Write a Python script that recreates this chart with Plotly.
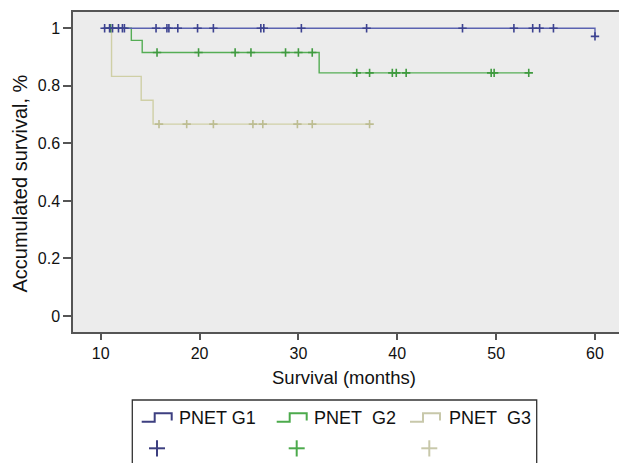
import numpy as np
import plotly.graph_objects as go

# ---------------- data ----------------
groups = ["PNET G1", "PNET  G2", "PNET  G3"]
colors = ["#5a62b0", "#55ad55", "#cfcfa6"]
mark_colors = ["#3c4290", "#3f9a3f", "#bdbd92"]
legend_colors = ["#3d3f80", "#4caa4c", "#c8c8aa"]

g1_step_t = [10.2, 60.0]
g1_step_s = [1.0, 0.972]
g1_cens_t = [10.4, 10.9, 11.2, 11.8, 12.2, 12.4, 15.6, 16.7, 16.9, 17.8, 19.8,
             21.4, 26.2, 26.5, 30.3, 36.9, 46.6, 51.8, 53.7, 54.4, 55.8, 60.0]

g2_step_t = [10.4, 13.1, 14.2, 32.1, 53.3]
g2_step_s = [1.0, 0.958, 0.916, 0.845, 0.845]
g2_cens_t = [11.0, 15.7, 19.9, 23.6, 25.2, 28.7, 30.0, 31.4, 35.9, 37.2, 39.5,
             39.9, 40.9, 49.5, 49.8, 53.3]

g3_step_t = [10.4, 11.1, 14.1, 15.3, 37.2]
g3_step_s = [1.0, 0.833, 0.75, 0.667, 0.667]
g3_cens_t = [15.9, 18.7, 21.4, 25.4, 26.4, 29.9, 31.4, 37.2]

x_ticks = [10, 20, 30, 40, 50, 60]
y_ticks = [0, 0.2, 0.4, 0.6, 0.8, 1]
y_tick_labels = ["0", "0.2", "0.4", "0.6", "0.8", "1"]

steps = [(g1_step_t, g1_step_s, g1_cens_t),
         (g2_step_t, g2_step_s, g2_cens_t),
         (g3_step_t, g3_step_s, g3_cens_t)]

FONT = "Liberation Sans, Arial, Helvetica, sans-serif"

fig = go.Figure()

def surv_at(ts, ss, t):
    ts = np.asarray(ts)
    idx = np.searchsorted(ts, t, side="right") - 1
    idx = np.clip(idx, 0, len(ss) - 1)
    return np.asarray(ss)[idx]

# draw G3 first, G1 last (on top)
for i in [2, 1, 0]:
    st, ss, ct = steps[i]
    fig.add_trace(go.Scatter(x=st, y=ss, mode="lines", line_shape="hv",
                             line=dict(color=colors[i], width=1.4),
                             showlegend=False, hoverinfo="skip"))
    cy = surv_at(st, ss, ct)
    fig.add_trace(go.Scatter(x=ct, y=cy, mode="markers",
                             marker=dict(symbol="cross-thin-open", size=6,
                                         color=mark_colors[i],
                                         line=dict(color=mark_colors[i], width=1.6)),
                             showlegend=False, hoverinfo="skip"))

# ---------------- layout ----------------
L, R, T, B = 73, 0, 12, 131
W, H = 619, 463
PW, PH = W - L - R, H - T - B

def px(x):
    return (x - L) / PW

def py(y):
    return (H - B - y) / PH

fig.update_layout(
    width=W, height=H, autosize=False,
    margin=dict(l=L, r=R, t=T, b=B, pad=0),
    paper_bgcolor="white", plot_bgcolor="#ececec",
    font=dict(family=FONT, color="#111", size=16),
    showlegend=False,
)
fig.update_xaxes(range=[7.2, 62.43], tickvals=x_ticks, ticks="outside", ticklen=6,
                 tickwidth=1.5, tickcolor="#555", showline=True, linecolor="#555",
                 linewidth=1.5, mirror=True, showgrid=False, zeroline=False,
                 automargin=False, tickfont=dict(size=16, family=FONT))
fig.update_yaxes(range=[-0.0556, 1.0567], tickvals=y_ticks, ticktext=y_tick_labels,
                 ticks="outside", ticklen=8, tickwidth=1.5, tickcolor="#555",
                 showline=True, linecolor="#555", linewidth=1.5, showgrid=False,
                 zeroline=False, automargin=False, tickfont=dict(size=16, family=FONT))

annotations = [
    dict(text="Accumulated survival, %", xref="paper", yref="paper",
         x=px(19.5), y=py(184), textangle=-90, showarrow=False,
         xanchor="center", yanchor="middle", font=dict(size=20, family=FONT)),
    dict(text="Survival (months)", xref="paper", yref="paper",
         x=px(344), y=py(377), showarrow=False, xanchor="center",
         yanchor="middle", font=dict(size=18.5, family=FONT)),
]
shapes = [
    dict(type="rect", xref="paper", yref="paper", x0=px(132.3), x1=px(536.7),
         y0=py(400), y1=py(480), line=dict(color="#333", width=1.3),
         fillcolor="rgba(0,0,0,0)"),
]

sym_x = [141.7, 276.7, 410.0]
txt_x = [177.3, 311.7, 446.7]
plus_x = [157.0, 296.7, 429.3]
for i in range(3):
    x0 = sym_x[i]
    pts = [(x0, 421.7), (x0 + 13, 421.7), (x0 + 13, 413.3), (x0 + 30, 413.3), (x0 + 30, 420.5)]
    path = "M " + " L ".join(f"{px(a):.5f},{py(b):.5f}" for a, b in pts)
    shapes.append(dict(type="path", xref="paper", yref="paper", path=path,
                       line=dict(color=legend_colors[i], width=2)))
    cx = plus_x[i]
    shapes.append(dict(type="line", xref="paper", yref="paper",
                       x0=px(cx - 8), x1=px(cx + 8), y0=py(448.3), y1=py(448.3),
                       line=dict(color=legend_colors[i], width=2)))
    shapes.append(dict(type="line", xref="paper", yref="paper",
                       x0=px(cx), x1=px(cx), y0=py(440.3), y1=py(456.5),
                       line=dict(color=legend_colors[i], width=2)))
    annotations.append(dict(text=groups[i].replace("  ", "\u00a0 "), xref="paper", yref="paper",
                            x=px(txt_x[i]), y=py(418), showarrow=False,
                            xanchor="left", yanchor="middle",
                            font=dict(size=18, family=FONT, color="#111")))

fig.update_layout(annotations=annotations, shapes=shapes)

fig.write_html("out.html", config={"displayModeBar": False},
               post_script="document.body.style.margin='0px';document.body.style.overflow='hidden';")
